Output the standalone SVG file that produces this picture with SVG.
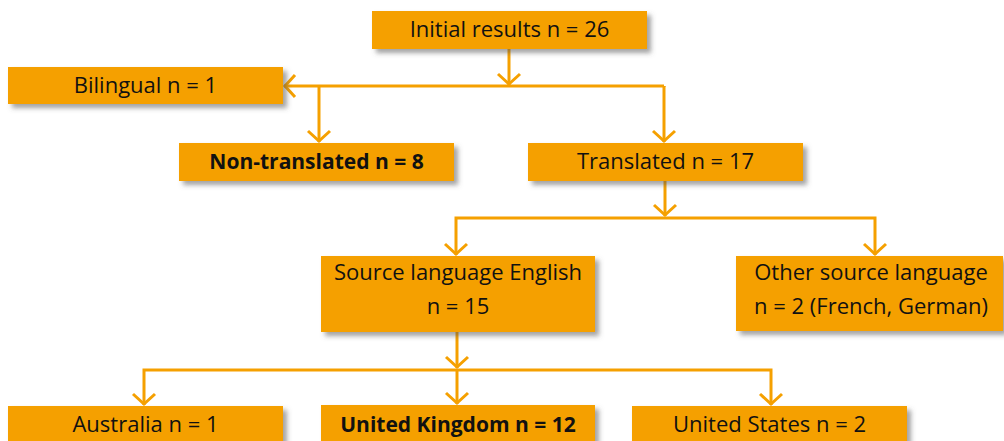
<svg xmlns="http://www.w3.org/2000/svg" width="1004" height="441" viewBox="0 0 1004 441">
<style>
.box{fill:#F5A000;filter:url(#sh)}
.t{font-family:"Open Sans","Noto Sans","DejaVu Sans",sans-serif;font-size:22px;fill:#111;text-anchor:middle}
.b{font-weight:bold;font-size:21px}
.c{fill:none;stroke:#F5A000;stroke-width:3;marker-end:url(#ah)}
.l{fill:none;stroke:#F5A000;stroke-width:3}
</style>
<defs>
<filter id="sh" x="-10%" y="-30%" width="125%" height="180%">
<feDropShadow dx="4" dy="4" stdDeviation="2.5" flood-color="#555" flood-opacity="0.55"/>
</filter>
<marker id="ah" markerUnits="userSpaceOnUse" viewBox="-14 -14 28 28" markerWidth="28" markerHeight="28" refX="0" refY="0" orient="auto">
<path d="M-11,-11 L-1,0 L-11,11" fill="none" stroke="#F5A000" stroke-width="3"/>
</marker>
</defs>
<rect width="1004" height="441" fill="#fff"/>
<g id="connectors">
<path class="c" d="M509,49 V85"/>
<path class="c" d="M664,86 H284"/>
<path class="l" d="M664,86 V87"/>
<path class="c" d="M319,86 V142"/>
<path class="c" d="M664,86 V142"/>
<path class="c" d="M665,181 V216"/>
<path class="c" d="M665,218 H456 V255"/>
<path class="c" d="M665,218 H875 V255"/>
<path class="c" d="M457,332 V368"/>
<path class="c" d="M457,370 V404"/>
<path class="c" d="M457,370 H144 V405"/>
<path class="c" d="M457,370 H771 V405"/>
</g>
<g id="initial"><rect class="box" x="372" y="11" width="275" height="38"/><text class="t" x="509.5" y="37">Initial results n = 26</text></g>
<g id="bilingual"><rect class="box" x="8" y="67" width="275" height="37"/><text class="t" x="145.5" y="93">Bilingual n = 1</text></g>
<g id="nontranslated"><rect class="box" x="179" y="143" width="275" height="38"/><text class="t b" x="316.5" y="169">Non-translated n = 8</text></g>
<g id="translated"><rect class="box" x="528" y="143" width="275" height="38"/><text class="t" x="665.5" y="169">Translated n = 17</text></g>
<g id="english"><rect class="box" x="321" y="256" width="274" height="76"/><text class="t" x="458" y="280">Source language English</text><text class="t" x="458" y="314">n = 15</text></g>
<g id="other"><rect class="box" x="736" y="256" width="267" height="75"/><text class="t" x="871" y="280">Other source language</text><text class="t" x="871" y="314">n = 2 (French, German)</text></g>
<g id="australia"><rect class="box" x="8" y="406" width="275" height="40"/><text class="t" x="145.5" y="432">Australia n = 1</text></g>
<g id="uk"><rect class="box" x="321" y="405" width="274" height="41"/><text class="t b" x="458" y="432">United Kingdom n = 12</text></g>
<g id="us"><rect class="box" x="632" y="406" width="275" height="40"/><text class="t" x="769.5" y="432">United States n = 2</text></g>
</svg>
